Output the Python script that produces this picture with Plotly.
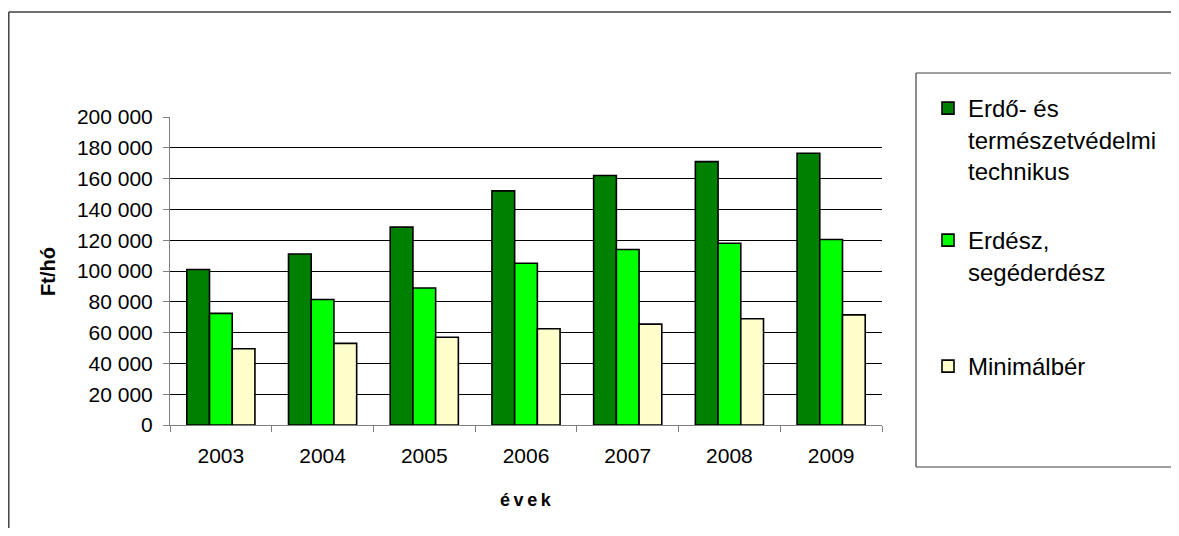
import plotly.graph_objects as go

years = ["2003", "2004", "2005", "2006", "2007", "2008", "2009"]
technikus = [101000, 111000, 128500, 152000, 162000, 171000, 176500]
erdesz = [72500, 81500, 89000, 105000, 114000, 118000, 120500]
minimalber = [49500, 53000, 57000, 62500, 65500, 69000, 71500]

names = ["Erdő- és<br>természetvédelmi<br>technikus", "Erdész,<br>segéderdész", "Minimálbér"]
colors = ["#008000", "#00FF00", "#FFFFCC"]
legends = ["legend", "legend2", "legend3"]

# page body has an 8px margin: work in screen pixels, convert to figure pixels
OFF = 8
W, H = 1179 - 2 * OFF, 536 - 2 * OFF
L, R, T, B = 170, 882, 117, 425  # plot area in screen pixels

def px(x):
    return (x - L) / (R - L)

def py(y):
    return (B - y) / (B - T)

FONT = "Liberation Sans, Arial, sans-serif"

fig = go.Figure()
for vals, name, col, lg in zip([technikus, erdesz, minimalber], names, colors, legends):
    fig.add_trace(go.Bar(
        x=years, y=vals, name=name, legend=lg,
        marker=dict(color=col, line=dict(color="black", width=1.6)),
    ))

legend_pos = [(928, 86), (928, 218), (928, 344)]
leg_common = dict(font=dict(family=FONT, size=24, color="black"), bgcolor="rgba(0,0,0,0)",
                  borderwidth=0, xref="container", yref="container", xanchor="left", yanchor="top",
                  valign="top", itemclick=False, itemdoubleclick=False)
legend_layout = {}
for lg, (lx, ly) in zip(legends, legend_pos):
    legend_layout[lg] = dict(x=(lx - OFF) / W, y=1 - (ly - OFF) / H, **leg_common)

TS = "\u2009"

def seg(x0, y0, x1, y1, color, width):
    return dict(type="line", xref="paper", yref="paper", x0=px(x0), y0=py(y0), x1=px(x1), y1=py(y1),
                line=dict(color=color, width=width), layer="below")

fig.update_layout(
    width=W, height=H,
    margin=dict(l=L - OFF, r=W - (R - OFF), t=T - OFF, b=H - (B - OFF), pad=0),
    paper_bgcolor="white", plot_bgcolor="white",
    barmode="group", bargap=0.33, bargroupgap=0,
    separators=", ",
    font=dict(family=FONT, size=21, color="black"),
    showlegend=True,
    **legend_layout,
    xaxis=dict(
        showline=True, linecolor="#808080", linewidth=1,
        ticks="outside", tickson="boundaries", ticklen=6, tickcolor="#808080",
        showgrid=False, tickfont=dict(size=21), ticklabelstandoff=12,
    ),
    yaxis=dict(
        range=[0, 200000], dtick=20000, tickformat=",d",
        showline=True, linecolor="#808080", linewidth=1,
        ticks="outside", ticklen=6, tickcolor="#808080",
        showgrid=True, gridcolor="black", gridwidth=1,
        tickfont=dict(size=21), ticklabelstandoff=6, zeroline=False,
    ),
    annotations=[
        dict(text="<b>" + TS.join("évek") + "</b>", x=px(526), y=py(500), xref="paper", yref="paper",
             showarrow=False, font=dict(size=18), xanchor="center", yanchor="middle"),
        dict(text="<b>Ft/hó</b>", x=px(48), y=py(272), xref="paper", yref="paper",
             showarrow=False, font=dict(size=20), textangle=-90, xanchor="center", yanchor="middle"),
    ],
    shapes=[
        # outer chart frame (left and top edges visible)
        seg(8.8, 12, 8.8, 560, "#404040", 1.5),
        seg(8.8, 12, 1200, 12, "#404040", 1.5),
        # legend box (right edge off-screen)
        seg(916, 73, 916, 467, "#404040", 1.2),
        seg(916, 73, 1200, 73, "#404040", 1.2),
        seg(916, 467, 1200, 467, "#404040", 1.2),
    ],
)

fig.write_html("out.html")
